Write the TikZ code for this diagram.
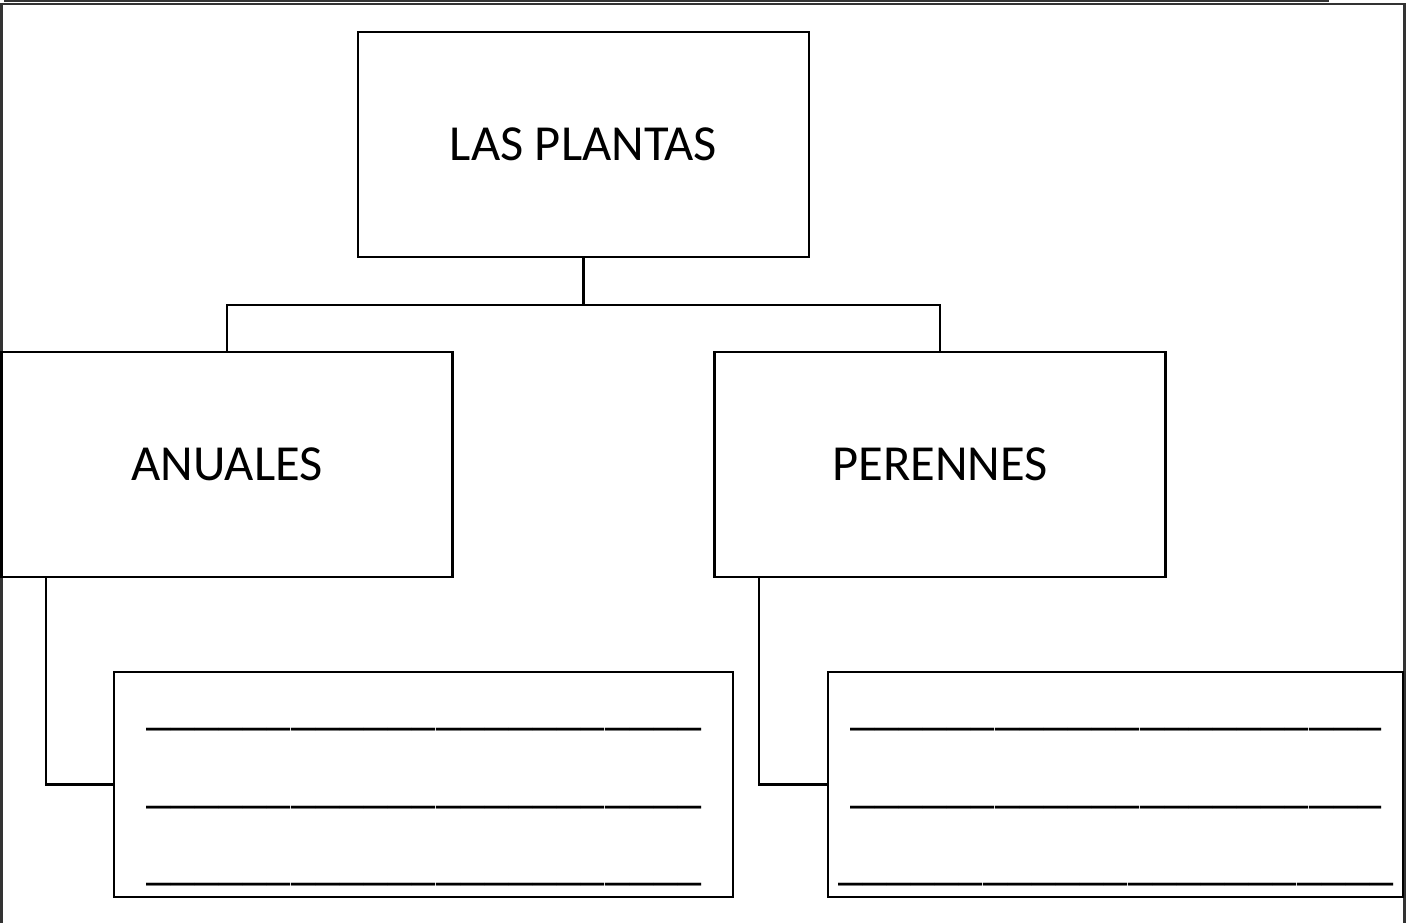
\documentclass[tikz,border=0pt]{standalone}
\usepackage{fontspec}
\setmainfont{Carlito}
\begin{document}
\begin{tikzpicture}[x=1pt,y=-1pt,
  frame/.style={draw=black!80,line width=2.2pt},
  box/.style={draw,line width=2.2pt,minimum height=225pt,inner sep=0pt,font=\fontsize{50.5}{60}\selectfont},
  conn/.style={draw,line width=2.2pt},
  blank/.style={anchor=base west,inner sep=0pt,font=\fontsize{48.5}{58}\selectfont}]
\useasboundingbox (0,0) rectangle (1415,922);
\clip (0,0) rectangle (1415,922);
% cut-off box at the top and outer frame
\draw[frame] (5,-30) rectangle (1328,1.2);
\draw[frame] (1.5,940) -- (1.5,4) -- (1404.5,4) -- (1404.5,940);
% boxes
\node[box,minimum width=451pt] (top) at (583.5,144.5) {LAS PLANTAS};
\node[box,minimum width=451pt] (anuales) at (227,464.5) {ANUALES};
\node[box,minimum width=451pt] (perennes) at (940,464.5) {PERENNES};
\node[box,minimum width=619pt] (lb) at (423.5,784.5) {};
\node[box,minimum width=575pt] (rb) at (1115.5,784.5) {};
% connectors
\draw[conn] (top.south) -- ++(0,47) coordinate (j);
\draw[conn] (j) -| (anuales.north);
\draw[conn] (j) -| (perennes.north);
\draw[conn] ([xshift=45.5pt]anuales.south west) |- (lb.west);
\draw[conn] ([xshift=45.5pt]perennes.south west) |- (rb.west);
% blank lines
\node[blank] (l1) at (146,724) {\_\_\_\_\_\_\_\_\_\_\_\_\_\_\_\_\_\_\_\_\_\_\_};
\node[blank] (l2) at (146,802) {\_\_\_\_\_\_\_\_\_\_\_\_\_\_\_\_\_\_\_\_\_\_\_};
\node[blank] (l3) at (146,879) {\_\_\_\_\_\_\_\_\_\_\_\_\_\_\_\_\_\_\_\_\_\_\_};
\node[blank] (r1) at (850,724) {\_\_\_\_\_\_\_\_\_\_\_\_\_\_\_\_\_\_\_\_\_\_};
\node[blank] (r2) at (850,802) {\_\_\_\_\_\_\_\_\_\_\_\_\_\_\_\_\_\_\_\_\_\_};
\node[blank] (r3) at (838,879) {\_\_\_\_\_\_\_\_\_\_\_\_\_\_\_\_\_\_\_\_\_\_\_};
\end{tikzpicture}
\end{document}
